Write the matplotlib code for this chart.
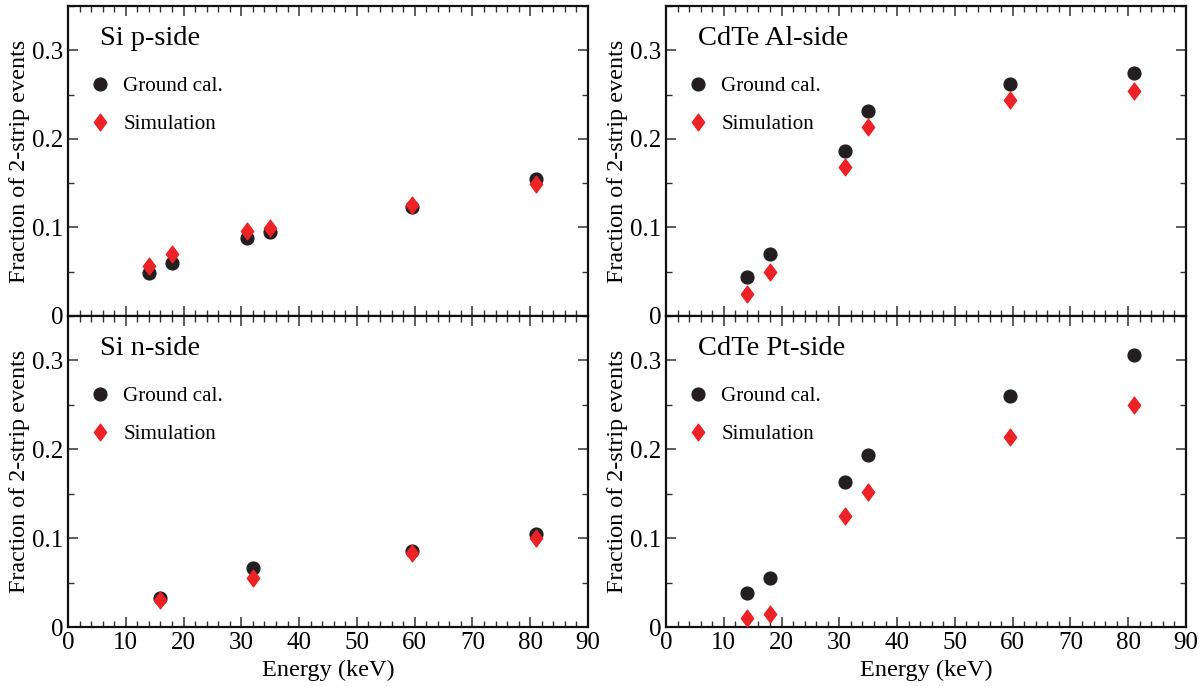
import matplotlib
matplotlib.use("Agg")
import matplotlib.pyplot as plt
from matplotlib.ticker import MultipleLocator, FixedLocator
from matplotlib.path import Path

plt.rcParams['font.family'] = ['Liberation Serif', 'DejaVu Serif']

# ---- data ----
energy_std = [14, 18, 31, 35, 59.5, 81]
energy_sin = [16, 32, 59.5, 81]

sip_ground = [0.048, 0.060, 0.088, 0.095, 0.123, 0.155]
sip_sim = [0.056, 0.070, 0.096, 0.099, 0.125, 0.149]

sin_ground = [0.033, 0.066, 0.086, 0.105]
sin_sim = [0.030, 0.055, 0.083, 0.100]

al_ground = [0.044, 0.070, 0.186, 0.231, 0.262, 0.274]
al_sim = [0.025, 0.050, 0.168, 0.213, 0.244, 0.254]

pt_ground = [0.038, 0.055, 0.163, 0.194, 0.260, 0.306]
pt_sim = [0.010, 0.015, 0.125, 0.152, 0.214, 0.250]

titles = ["Si p-side", "CdTe Al-side", "Si n-side", "CdTe Pt-side"]
xticks = [0, 10, 20, 30, 40, 50, 60, 70, 80, 90]
yticks = [0, 0.1, 0.2, 0.3]
ytick_labels = ["0", "0.1", "0.2", "0.3"]

BLACK = "#231f20"
RED = "#ec2227"

diamond = Path([(0, 1), (0.74, 0), (0, -1), (-0.74, 0), (0, 1)],
               [Path.MOVETO, Path.LINETO, Path.LINETO, Path.LINETO, Path.CLOSEPOLY])

fig = plt.figure(figsize=(12.04, 6.86), dpi=100)
W, H = 1204, 686
def rect(x0, y0, x1, y1):
    return [x0 / W, (H - y1) / H, (x1 - x0) / W, (y1 - y0) / H]

axes = [
    fig.add_axes(rect(68, 6, 588, 316)),
    fig.add_axes(rect(666, 6, 1186, 316)),
    fig.add_axes(rect(68, 316, 588, 627)),
    fig.add_axes(rect(666, 316, 1186, 627)),
]
datasets = [
    (energy_std, sip_ground, energy_std, sip_sim),
    (energy_std, al_ground, energy_std, al_sim),
    (energy_sin, sin_ground, energy_sin, sin_sim),
    (energy_std, pt_ground, energy_std, pt_sim),
]

for i, (ax, (xg, yg, xs, ys), title) in enumerate(zip(axes, datasets, titles)):
    ax.plot(xg, yg, 'o', color=BLACK, markersize=9.2, linestyle='none',
            label="Ground cal.", zorder=3)
    ax.plot(xs, ys, marker=diamond, color=RED, markersize=12, linestyle='none',
            label="Simulation", zorder=4)
    ax.set_xlim(0, 90)
    ax.set_ylim(0, 0.35)
    ax.xaxis.set_major_locator(FixedLocator(xticks))
    ax.xaxis.set_minor_locator(MultipleLocator(2))
    ax.yaxis.set_major_locator(FixedLocator(yticks))
    ax.yaxis.set_minor_locator(MultipleLocator(0.05))
    ax.tick_params(which='both', direction='in', top=True, right=True,
                   labelsize=18, color='#333333')
    ax.tick_params(which='major', length=7, width=1.1)
    ax.tick_params(which='minor', length=4, width=1.0)
    ax.set_yticklabels(ytick_labels)
    for sp in ax.spines.values():
        sp.set_linewidth(1.6)
        sp.set_color('#111111')
    ax.set_ylabel("Fraction of 2-strip events", fontsize=17.4, labelpad=1)
    if i < 2:
        ax.tick_params(labelbottom=False)
    else:
        ax.set_xticklabels([str(v) for v in xticks])
        ax.set_xlabel("Energy (keV)", fontsize=17.5, labelpad=4)
    ax.text(0.061, 0.895, title, transform=ax.transAxes, fontsize=20.5,
            va='center', ha='left')
    ax.legend(loc='upper left', bbox_to_anchor=(0.019, 0.80), frameon=False,
              fontsize=15.2, handletextpad=0.45, labelspacing=0.85,
              borderaxespad=0, handlelength=1.3, numpoints=1)

fig.savefig("out.png", dpi=100)
